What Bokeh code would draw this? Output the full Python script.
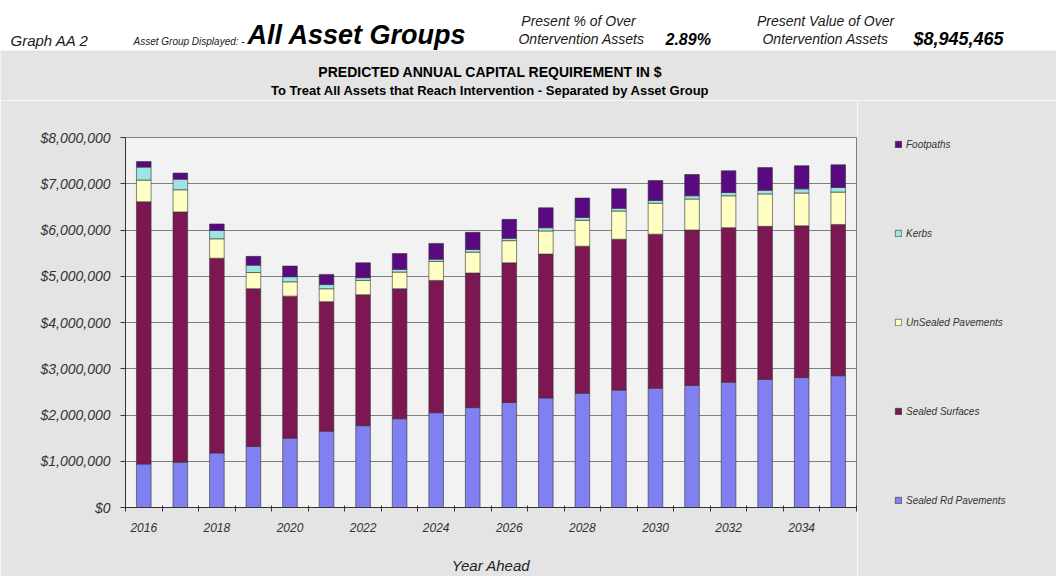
from bokeh.plotting import figure
from bokeh.models import (ColumnDataSource, Range1d, FixedTicker, NumeralTickFormatter,
                          Label, Legend, LegendItem)
from bokeh.layouts import row
from bokeh.embed import file_html
from bokeh.resources import INLINE

# ---------------- data ----------------
years = [2016, 2017, 2018, 2019, 2020, 2021, 2022, 2023, 2024, 2025,
         2026, 2027, 2028, 2029, 2030, 2031, 2032, 2033, 2034, 2035]
labelled_years = [2016, 2018, 2020, 2022, 2024, 2026, 2028, 2030, 2032, 2034]

sealed_rd_pavements = [940000, 980000, 1180000, 1320000, 1500000, 1650000, 1770000, 1920000, 2050000, 2160000,
                       2270000, 2370000, 2470000, 2540000, 2580000, 2640000, 2710000, 2770000, 2810000, 2850000]
sealed_surfaces = [5670000, 5410000, 4210000, 3410000, 3070000, 2800000, 2830000, 2810000, 2860000, 2910000,
                   3020000, 3110000, 3180000, 3260000, 3330000, 3360000, 3340000, 3310000, 3280000, 3270000]
unsealed_pavements = [470000, 480000, 420000, 350000, 310000, 280000, 310000, 360000, 410000, 450000,
                      480000, 500000, 560000, 610000, 670000, 670000, 690000, 700000, 710000, 700000]
kerbs = [280000, 230000, 180000, 160000, 110000, 90000, 60000, 60000, 50000, 60000,
         50000, 70000, 60000, 60000, 60000, 70000, 70000, 80000, 90000, 100000]
footpaths = [120000, 130000, 140000, 190000, 230000, 220000, 320000, 340000, 340000, 370000,
             410000, 430000, 420000, 420000, 430000, 460000, 470000, 490000, 500000, 490000]

series_keys = ["sealed_rd", "sealed_surf", "unsealed", "kerbs", "footpaths"]
series_names = ["Sealed Rd Pavements", "Sealed Surfaces", "UnSealed Pavements", "Kerbs", "Footpaths"]
series_colors = ["#8080f0", "#7d1752", "#ffffc4", "#9fe3e3", "#5a0a80"]

y_ticks = [0, 1000000, 2000000, 3000000, 4000000, 5000000, 6000000, 7000000, 8000000]

FONT = "Liberation Sans"
PANEL_GREY = "#e4e4e4"


def text_strip(width, height, bg):
    return figure(width=width, height=height, x_range=Range1d(0, 1), y_range=Range1d(0, 1),
                  x_axis_type=None, y_axis_type=None, min_border=0, outline_line_color=None,
                  toolbar_location=None, output_backend="svg",
                  background_fill_color=bg, border_fill_color=bg)


def add_text(fig, x, y, text, size, style="italic", align="left", color="#1a1a1a"):
    fig.add_layout(Label(x=x, y=y, x_units="canvas", y_units="canvas", text=text,
                         text_font=FONT, text_font_size=size, text_font_style=style,
                         text_align=align, text_baseline="middle", text_color=color))


# ---------------- header strip (white) ----------------
header = text_strip(1056, 50, "white")
add_text(header, 10, 40, "Graph AA 2", "15px")
add_text(header, 133, 40.5, "Asset Group Displayed: -", "10px")
add_text(header, 247, 34.5, "All Asset Groups", "27px", style="bold italic", color="#000000")
add_text(header, 578, 20, "Present % of Over", "14px", align="center")
add_text(header, 581, 38, "Ontervention Assets", "14px", align="center")
add_text(header, 665, 38.5, "2.89%", "16px", style="bold italic", color="#000000")
add_text(header, 825, 20, "Present Value of Over", "14px", align="center")
add_text(header, 825, 38, "Ontervention Assets", "14px", align="center")
add_text(header, 913, 38, "$8,945,465", "18px", style="bold italic", color="#000000")

# ---------------- title strip (grey) ----------------
titles = text_strip(1056, 50, PANEL_GREY)
add_text(titles, 490, 21, "PREDICTED ANNUAL CAPITAL REQUIREMENT IN $", "14px", style="bold",
         align="center", color="#000000")
add_text(titles, 490, 40, "To Treat All Assets that Reach Intervention - Separated by Asset Group", "13px",
         style="bold", align="center", color="#000000")

# ---------------- chart ----------------
source = ColumnDataSource(dict(
    year=years,
    sealed_rd=sealed_rd_pavements,
    sealed_surf=sealed_surfaces,
    unsealed=unsealed_pavements,
    kerbs=kerbs,
    footpaths=footpaths,
))

p = figure(width=857, height=476,
           x_range=Range1d(years[0] - 0.5, years[-1] + 0.5),
           y_range=Range1d(y_ticks[0], y_ticks[-1]),
           toolbar_location=None, output_backend="svg",
           min_border_left=125, min_border_right=1, min_border_top=37, min_border_bottom=68,
           background_fill_color="#f2f2f2", border_fill_color=PANEL_GREY,
           outline_line_color="#808080", outline_line_width=1)

renderers = p.vbar_stack(series_keys, x="year", width=0.4, source=source,
                         fill_color=series_colors, line_color="#333333", line_width=0.6)

# y axis
p.yaxis.ticker = FixedTicker(ticks=y_ticks)
p.yaxis.formatter = NumeralTickFormatter(format="$0,0")
p.yaxis.major_label_text_font = FONT
p.yaxis.major_label_text_font_style = "italic"
p.yaxis.major_label_text_font_size = "14px"
p.yaxis.major_label_text_color = "#333333"
p.yaxis.major_tick_out = 5
p.yaxis.major_tick_in = 0
p.yaxis.minor_tick_line_color = None
p.yaxis.major_label_standoff = 10
p.yaxis.axis_line_color = "#333333"
p.yaxis.major_tick_line_color = "#333333"

# x axis
boundaries = [y - 0.5 for y in years] + [years[-1] + 0.5]
p.xaxis.ticker = FixedTicker(ticks=labelled_years, minor_ticks=boundaries)
p.xaxis.major_tick_in = 0
p.xaxis.major_tick_out = 0
p.xaxis.minor_tick_in = 2
p.xaxis.minor_tick_out = 4
p.xaxis.minor_tick_line_color = "#333333"
p.xaxis.axis_line_color = "#333333"
p.xaxis.major_label_text_font = FONT
p.xaxis.major_label_text_font_style = "italic"
p.xaxis.major_label_text_font_size = "12px"
p.xaxis.major_label_text_color = "#333333"
p.xaxis.major_label_standoff = 11
p.xaxis.axis_label = "Year Ahead"
p.xaxis.axis_label_text_font = FONT
p.xaxis.axis_label_text_font_style = "italic"
p.xaxis.axis_label_text_font_size = "15px"
p.xaxis.axis_label_text_color = "#222222"
p.xaxis.axis_label_standoff = 22

p.xgrid.grid_line_color = None
p.ygrid.grid_line_color = "#7f7f7f"
p.ygrid.grid_line_width = 1

# ---------------- legend panel (right) ----------------
# the same stacked series, kept out of this panel's view, supply the legend swatches
legfig = text_strip(199, 476, PANEL_GREY)
legfig.outline_line_color = PANEL_GREY
legfig.outline_line_width = 3
swatches = legfig.vbar_stack(series_keys, x="year", width=0.4, source=source,
                             fill_color=series_colors, line_color="#333333", line_width=0.6)
items = [LegendItem(label=series_names[i], renderers=[swatches[i]]) for i in [4, 3, 2, 1, 0]]
legend = Legend(items=items, location="left", orientation="vertical",
                spacing=77, padding=0, margin=37,
                glyph_width=8, glyph_height=8, label_height=12, label_standoff=4,
                label_text_font=FONT, label_text_font_style="italic", label_text_font_size="10px",
                label_text_color="#333333",
                background_fill_alpha=0, border_line_alpha=0)
legfig.add_layout(legend)

chart_row = row(p, legfig, spacing=0)

open("out.html", "w").write(file_html([header, titles, chart_row], INLINE))
